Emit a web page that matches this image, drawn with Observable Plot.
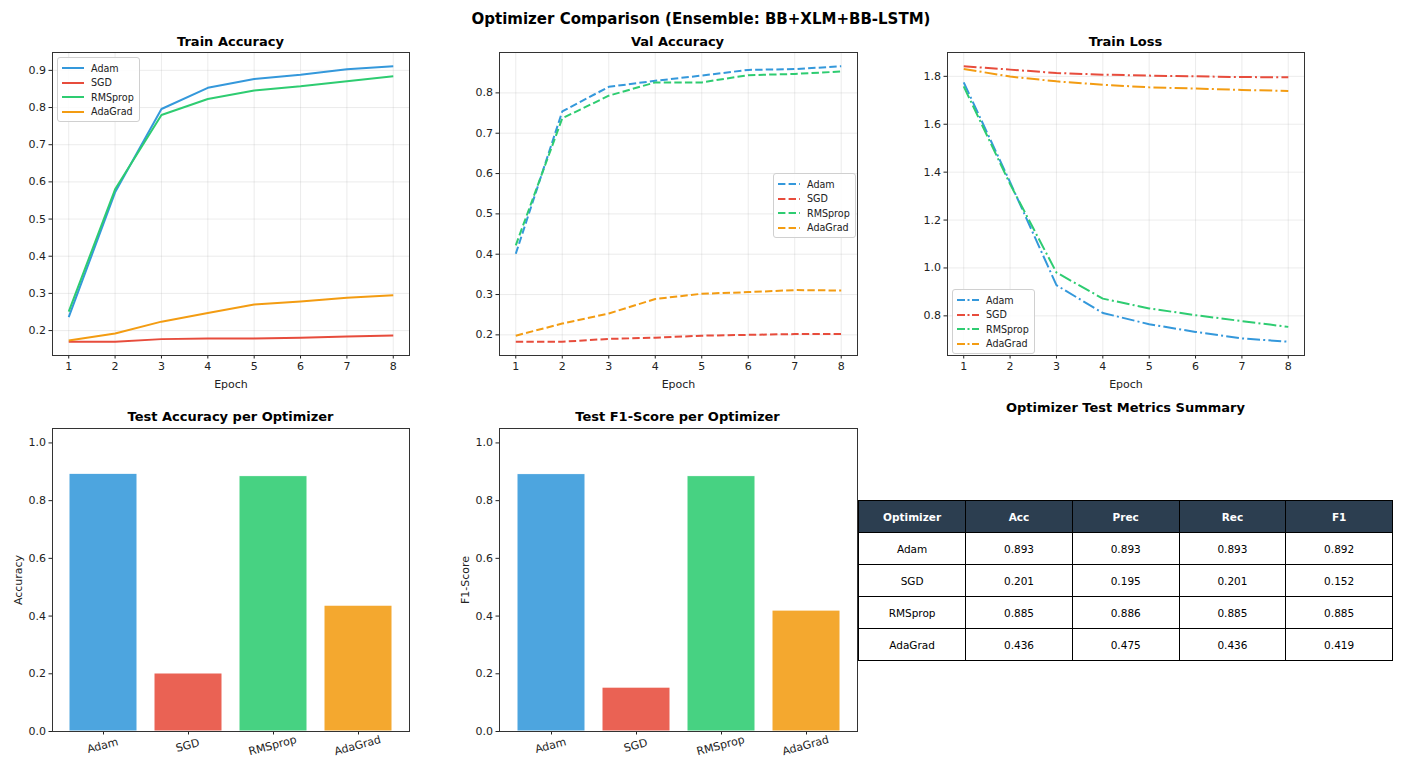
<!DOCTYPE html>
<html><head><meta charset="utf-8">
<script src="https://cdn.jsdelivr.net/npm/d3@7"></script>
<script src="https://cdn.jsdelivr.net/npm/@observablehq/plot@0.6"></script>
<style>
body{margin:0;background:#fff;font-family:"DejaVu Sans",sans-serif;}
#root{position:relative;width:1402px;height:760px;overflow:hidden;background:#fff;}
.panel{position:absolute;}
.ttl{position:absolute;font-weight:bold;font-size:13px;text-align:center;color:#000;white-space:nowrap;}
.legend{position:absolute;border:1px solid #d0d0d0;border-radius:3px;background:rgba(255,255,255,0.85);padding:3px 5px 2px 4px;font-size:9.6px;color:#222;z-index:5;}
.legend .row{display:flex;align-items:center;height:14.5px;}
.legend svg{margin-right:7px;}
table.metrics{position:absolute;border-collapse:collapse;font-size:10.5px;color:#000;z-index:6;background:#fff;}
table.metrics td, table.metrics th{border:1px solid #000;text-align:center;padding:0;}
table.metrics th{background:#2c3e50;color:#fff;font-weight:bold;height:31px;}
table.metrics td{height:31px;}
</style></head>
<body><div id="root"></div>
<script>
const epochs = [1, 2, 3, 4, 5, 6, 7, 8];
const optimizers = ["Adam", "SGD", "RMSprop", "AdaGrad"];
const colors = ["#3498db", "#e74c3c", "#2ecc71", "#f39c12"];

const trainAccAdam    = [0.236, 0.572, 0.796, 0.853, 0.877, 0.888, 0.903, 0.911];
const trainAccSGD     = [0.170, 0.170, 0.177, 0.179, 0.179, 0.181, 0.184, 0.187];
const trainAccRMSprop = [0.251, 0.580, 0.780, 0.823, 0.846, 0.857, 0.871, 0.884];
const trainAccAdaGrad = [0.173, 0.192, 0.224, 0.247, 0.270, 0.278, 0.288, 0.295];

const valAccAdam    = [0.401, 0.754, 0.815, 0.830, 0.843, 0.857, 0.859, 0.866];
const valAccSGD     = [0.183, 0.183, 0.190, 0.193, 0.198, 0.200, 0.202, 0.202];
const valAccRMSprop = [0.422, 0.737, 0.793, 0.826, 0.826, 0.844, 0.847, 0.853];
const valAccAdaGrad = [0.198, 0.228, 0.253, 0.289, 0.302, 0.306, 0.311, 0.310];

const trainLossAdam    = [1.775, 1.358, 0.928, 0.812, 0.765, 0.733, 0.706, 0.692];
const trainLossSGD     = [1.842, 1.828, 1.814, 1.807, 1.803, 1.800, 1.797, 1.796];
const trainLossRMSprop = [1.758, 1.350, 0.981, 0.872, 0.831, 0.803, 0.778, 0.754];
const trainLossAdaGrad = [1.831, 1.799, 1.779, 1.765, 1.754, 1.749, 1.743, 1.739];

const testAcc  = [0.893, 0.201, 0.885, 0.436];
const testPrec = [0.893, 0.195, 0.886, 0.475];
const testRec  = [0.893, 0.201, 0.885, 0.436];
const testF1   = [0.892, 0.152, 0.885, 0.419];

const tableHeaders = ["Optimizer", "Acc", "Prec", "Rec", "F1"];
const epochTicks = [1, 2, 3, 4, 5, 6, 7, 8];
const trainAccTicks = [0.2, 0.3, 0.4, 0.5, 0.6, 0.7, 0.8, 0.9];
const valAccTicks = [0.2, 0.3, 0.4, 0.5, 0.6, 0.7, 0.8];
const lossTicks = [0.8, 1.0, 1.2, 1.4, 1.6, 1.8];
const barTicks = [0.0, 0.2, 0.4, 0.6, 0.8, 1.0];

const root = document.getElementById("root");
const FONT = "DejaVu Sans";
const gridStyle = {stroke: "#b0b0b0", strokeOpacity: 0.3, strokeWidth: 0.8};
const fmt1 = d3.format(".1f");

function addTitle(text, left, width, top, size) {
  const d = document.createElement("div");
  d.className = "ttl";
  d.style.left = left + "px"; d.style.width = width + "px"; d.style.top = top + "px";
  if (size) d.style.fontSize = size + "px";
  d.textContent = text;
  root.appendChild(d);
}

function addLegend(left, top, dash) {
  const d = document.createElement("div");
  d.className = "legend";
  d.style.left = left + "px"; d.style.top = top + "px";
  optimizers.forEach((o, i) => {
    const r = document.createElement("div");
    r.className = "row";
    r.innerHTML = `<svg width="22" height="6"><line x1="0" y1="3" x2="22" y2="3" stroke="${colors[i]}" stroke-width="2" stroke-dasharray="${dash || ""}"/></svg><span>${o}</span>`;
    d.appendChild(r);
  });
  root.appendChild(d);
}

function place(el, left, top) {
  const w = document.createElement("div");
  w.className = "panel";
  w.style.left = left + "px"; w.style.top = top + "px";
  w.appendChild(el);
  root.appendChild(w);
}

function linePanel(series, dash, yTicks, box) {
  const rows = [];
  optimizers.forEach((o, i) => series[i].forEach((v, j) => rows.push({optimizer: o, epoch: epochs[j], value: v})));
  const [lo, hi] = d3.extent(rows, d => d.value);
  const pad = (hi - lo) * 0.05;
  const [xlo, xhi] = d3.extent(epochs);
  const xpad = (xhi - xlo) * 0.05;
  const p = Plot.plot({
    width: box.w, height: box.h,
    marginLeft: box.ml, marginRight: box.mr, marginTop: box.mt, marginBottom: box.mb,
    style: {fontFamily: FONT, fontSize: "11px", color: "#222", background: "transparent", overflow: "visible"},
    x: {domain: [xlo - xpad, xhi + xpad]},
    y: {domain: [lo - pad, hi + pad]},
    color: {domain: optimizers, range: colors},
    marks: [
      Plot.gridX(epochTicks, gridStyle),
      Plot.gridY(yTicks, gridStyle),
      Plot.line(rows, {x: "epoch", y: "value", z: "optimizer", stroke: "optimizer", strokeWidth: 2,
        strokeDasharray: dash, strokeLinecap: "butt", strokeLinejoin: "round"}),
      Plot.axisX({ticks: epochTicks, tickSize: 3.5, tickPadding: 3, fontSize: 11, label: "Epoch", labelAnchor: "center", labelArrow: "none", labelOffset: 32}),
      Plot.axisY({ticks: yTicks, tickSize: 3.5, tickPadding: 3, fontSize: 11, tickFormat: fmt1, label: null}),
      Plot.frame({stroke: "#333", strokeWidth: 1})
    ]
  });
  place(p, box.left, box.top);
}

function barPanel(values, ylabel, box) {
  const rows = optimizers.map((o, i) => ({optimizer: o, value: values[i], color: colors[i]}));
  const p = Plot.plot({
    width: box.w, height: box.h,
    marginLeft: box.ml, marginRight: box.mr, marginTop: box.mt, marginBottom: box.mb,
    style: {fontFamily: FONT, fontSize: "11px", color: "#222", background: "transparent", overflow: "visible"},
    x: {type: "band", domain: optimizers, paddingInner: 0.2, paddingOuter: 0.2},
    y: {domain: [0, 1.05]},
    marks: [
      Plot.barY(rows, {x: "optimizer", y: "value", fill: "color", fillOpacity: 0.88, stroke: "white", strokeWidth: 1}),
      Plot.axisX({tickSize: 3.5, tickFormat: () => "", label: null}),
      Plot.text(rows, {x: "optimizer", text: "optimizer", frameAnchor: "bottom", dy: 17.5, rotate: -15, fontSize: 11, fill: "#222"}),
      Plot.axisY({ticks: barTicks, tickSize: 3.5, tickPadding: 3, fontSize: 11, tickFormat: fmt1, label: ylabel, labelAnchor: "center", labelArrow: "none", labelOffset: 38}),
      Plot.frame({stroke: "#333", strokeWidth: 1})
    ]
  });
  place(p, box.left, box.top);
}

// main title
addTitle("Optimizer Comparison (Ensemble: BB+XLM+BB-LSTM)", 0, 1402, 10, 15);

// top row
linePanel([trainAccAdam, trainAccSGD, trainAccRMSprop, trainAccAdaGrad], null, trainAccTicks,
  {left: 0, top: 30, w: 420, h: 370, ml: 52, mr: 11, mt: 22, mb: 45});
addTitle("Train Accuracy", 52, 357, 34);
addLegend(57, 57, null);

linePanel([valAccAdam, valAccSGD, valAccRMSprop, valAccAdaGrad], "7.4,3.2", valAccTicks,
  {left: 440, top: 30, w: 430, h: 370, ml: 59, mr: 13, mt: 22, mb: 45});
addTitle("Val Accuracy", 499, 357, 34);
addLegend(773, 173, "7.4,3.2");

linePanel([trainLossAdam, trainLossSGD, trainLossRMSprop, trainLossAdaGrad], "12.8,3.2,2,3.2", lossTicks,
  {left: 890, top: 30, w: 430, h: 370, ml: 57, mr: 16, mt: 22, mb: 45});
addTitle("Train Loss", 947, 357, 34);
addLegend(952, 289, "8,2.5,2,2.5");

// bottom row
barPanel(testAcc, "Accuracy", {left: 0, top: 400, w: 420, h: 360, ml: 52, mr: 11, mt: 28, mb: 29});
addTitle("Test Accuracy per Optimizer", 52, 357, 409);
barPanel(testF1, "F1-Score", {left: 440, top: 400, w: 430, h: 360, ml: 59, mr: 13, mt: 28, mb: 29});
addTitle("Test F1-Score per Optimizer", 499, 357, 409);

// table
addTitle("Optimizer Test Metrics Summary", 858, 535, 400);
const tbl = document.createElement("table");
tbl.className = "metrics";
tbl.style.left = "858px"; tbl.style.top = "500px"; tbl.style.width = "535px";
const thead = document.createElement("tr");
tableHeaders.forEach(h => { const th = document.createElement("th"); th.textContent = h; th.style.width = "107px"; thead.appendChild(th); });
tbl.appendChild(thead);
optimizers.forEach((o, i) => {
  const tr = document.createElement("tr");
  [o, testAcc[i].toFixed(3), testPrec[i].toFixed(3), testRec[i].toFixed(3), testF1[i].toFixed(3)].forEach(v => {
    const td = document.createElement("td"); td.textContent = v; tr.appendChild(td);
  });
  tbl.appendChild(tr);
});
root.appendChild(tbl);
</script>
</body></html>
